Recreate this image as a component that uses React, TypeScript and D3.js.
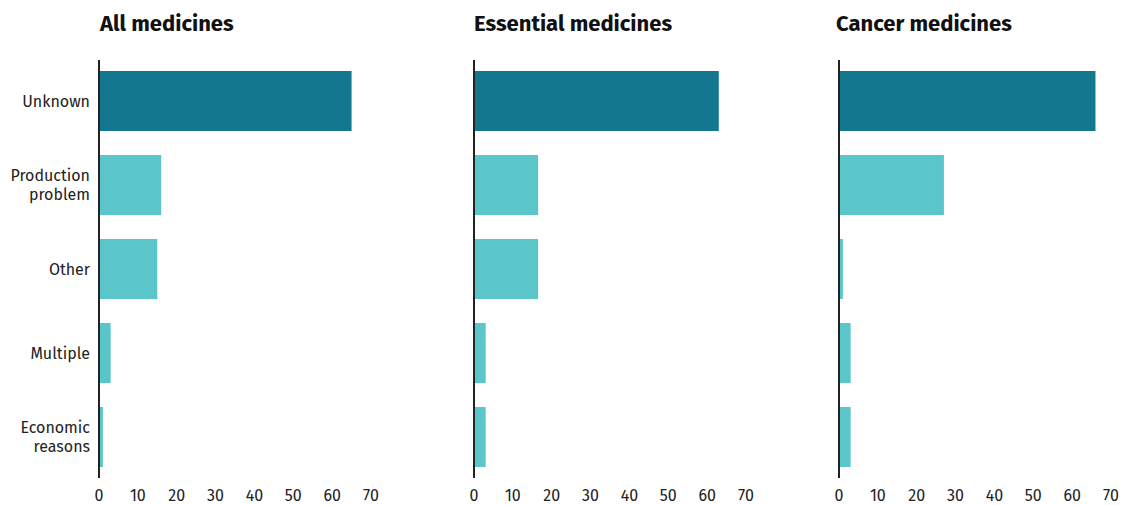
import React from 'react';
import * as d3 from 'd3';

const categories = ['Unknown', 'Production problem', 'Other', 'Multiple', 'Economic reasons'];
const categoryLines = [['Unknown'], ['Production', 'problem'], ['Other'], ['Multiple'], ['Economic', 'reasons']];
const panelTitles = ['All medicines', 'Essential medicines', 'Cancer medicines'];
const allValues = [65, 16, 15, 3, 1];
const essentialValues = [63, 16.5, 16.5, 3, 3];
const cancerValues = [66, 27, 1, 3, 3];
const tickValues = [0, 10, 20, 30, 40, 50, 60, 70];

const panelSeries = [allValues, essentialValues, cancerValues];
const panelLeft = [99, 474, 839];
const titleShift = [1, 0, -3];

const W = 1122;
const H = 505;
const DARK = '#13788f';
const LIGHT = '#5bc6ca';
const FONT = "'Fira Sans', 'Noto Sans', 'Open Sans', sans-serif";

const App: React.FC = () => {
  const y = d3.scaleBand<string>().domain(categories).range([71 - 12, 467 + 12]).paddingInner(24 / 84).paddingOuter(12 / 84);

  return (
    <svg width={W} height={H} style={{ position: 'absolute', left: 0, top: 0, background: '#fff' }}>
      {panelSeries.map((vals, pi) => {
        const x0 = panelLeft[pi];
        const x = d3.scaleLinear().domain([0, 70]).range([x0, x0 + 272]);
        return (
          <g key={pi}>
            <text x={x0 + titleShift[pi]} y={31} fontFamily={FONT} fontWeight={700} fontSize={22} fill="#111">
              {panelTitles[pi]}
            </text>
            {vals.map((v, i) => (
              <rect
                key={i}
                x={x(0)}
                y={y(categories[i])}
                width={x(v) - x(0)}
                height={y.bandwidth()}
                fill={i === 0 ? DARK : LIGHT}
              />
            ))}
            <line x1={x(0)} x2={x(0)} y1={60} y2={478} stroke="#222" strokeWidth={2} />
            {tickValues.map((t) => (
              <text key={t} x={x(t)} y={501} textAnchor="middle" fontFamily={FONT} fontSize={16} fill="#222">
                {t}
              </text>
            ))}
          </g>
        );
      })}
      {categoryLines.map((lines, i) => {
        const cy = (y(categories[i]) as number) + y.bandwidth() / 2;
        const lh = 19;
        const start = cy - ((lines.length - 1) * lh) / 2;
        return (
          <text key={i} textAnchor="end" fontFamily={FONT} fontSize={16} fill="#222">
            {lines.map((l, j) => (
              <tspan key={j} x={90} y={start + j * lh} dy="0.35em">
                {l}
              </tspan>
            ))}
          </text>
        );
      })}
    </svg>
  );
};

export default App;
